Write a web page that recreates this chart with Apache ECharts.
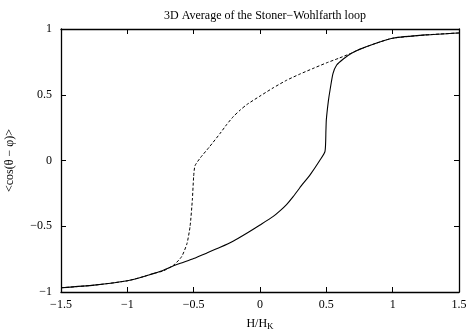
<!DOCTYPE html>
<html><head><meta charset="utf-8">
<script src="https://cdn.jsdelivr.net/npm/echarts@6/dist/echarts.min.js"></script>
<style>html,body{margin:0;padding:0;background:#fff}#c{width:468px;height:333px}</style>
</head><body><div id="c"></div>
<script>
// Field H/H_K and <cos(theta - phi)> for both branches
const upperH = [1.5,1.25,1.0,0.875,0.75,0.69,0.6,0.5,0.4,0.3,0.2,0.1,0,-0.1,-0.15,-0.2,-0.25,-0.3,-0.38,-0.45,-0.49,-0.5,-0.51,-0.527,-0.55,-0.59,-0.65,-0.73,-0.8,-0.875,-1.0,-1.25,-1.5];
const upperM = [0.97,0.955,0.93,0.892,0.845,0.817,0.78,0.742,0.70,0.657,0.61,0.553,0.49,0.425,0.383,0.335,0.275,0.207,0.105,0.02,-0.04,-0.12,-0.30,-0.50,-0.63,-0.73,-0.795,-0.84,-0.858,-0.882,-0.915,-0.948,-0.968];
const lowerH = [-1.5,-1.25,-1.0,-0.875,-0.75,-0.69,-0.6,-0.5,-0.4,-0.3,-0.2,-0.1,0,0.1,0.15,0.2,0.25,0.3,0.38,0.45,0.49,0.497,0.50,0.515,0.528,0.55,0.578,0.628,0.69,0.75,0.875,1.0,1.25,1.5];
const lowerM = [-0.968,-0.948,-0.915,-0.882,-0.843,-0.817,-0.782,-0.745,-0.703,-0.66,-0.612,-0.553,-0.49,-0.425,-0.383,-0.335,-0.275,-0.207,-0.105,0.0,0.07,0.23,0.31,0.45,0.536,0.66,0.726,0.772,0.815,0.845,0.892,0.93,0.955,0.97];
const xTicks = [-1.5,-1,-0.5,0,0.5,1,1.5];
const yTicks = [-1,-0.5,0,0.5,1];

const font = 'Liberation Serif';
const fmt = v => String(v).replace('-', '\u2212');
const chart = echarts.init(document.getElementById('c'), null, {renderer:'canvas'});
const axisLine = {show:true, onZero:false, lineStyle:{color:'#000', width:1.3}};
const tick = {show:true, inside:true, length:5, lineStyle:{color:'#000', width:1}};
chart.setOption({
  animation:false,
  backgroundColor:'#fff',
  title:{text:'3D Average of the Stoner\u2212Wohlfarth loop', left:260, top:5, textAlign:'center',
    textStyle:{fontFamily:font, fontSize:12, fontWeight:'normal', color:'#000'}},
  grid:{left:61, right:9, top:29, bottom:41, containLabel:false, outerBoundsMode:'none'},
  xAxis:[
    {type:'value', min:-1.5, max:1.5, interval:0.5, position:'bottom',
     axisLine, axisTick:tick, splitLine:{show:false},
     axisLabel:{fontFamily:font, fontSize:12, color:'#000', margin:7, formatter:fmt},
     name:'{a|H/H}{b|K}', nameLocation:'middle', nameGap:24,
     nameTextStyle:{rich:{a:{fontFamily:font, fontSize:12, color:'#000'}, b:{fontFamily:font, fontSize:9, color:'#000', verticalAlign:'bottom', padding:[6,0,0,0]}}}},
    {type:'value', min:-1.5, max:1.5, interval:0.5, position:'top',
     axisLine, axisTick:tick, axisLabel:{show:false}, splitLine:{show:false}}
  ],
  yAxis:[
    {type:'value', min:-1, max:1, interval:0.5, position:'left',
     axisLine, axisTick:tick, splitLine:{show:false},
     axisLabel:{fontFamily:font, fontSize:12, color:'#000', margin:9, formatter:fmt},
     name:'<cos(\u03b8 \u2212 \u03c6)>', nameLocation:'middle', nameGap:45,
     nameTextStyle:{fontFamily:font, fontSize:12, color:'#000'}},
    {type:'value', min:-1, max:1, interval:0.5, position:'right',
     axisLine, axisTick:tick, axisLabel:{show:false}, splitLine:{show:false}}
  ],
  series:[
    {type:'line', showSymbol:false, z:2, smooth:0.2, data:upperH.map((h,i)=>[h,upperM[i]]),
     lineStyle:{color:'#000', width:1, type:[3,2]}},
    {type:'line', showSymbol:false, z:3, smooth:0.2, data:lowerH.map((h,i)=>[h,lowerM[i]]),
     lineStyle:{color:'#000', width:1.1}}
  ]
});
</script></body></html>
